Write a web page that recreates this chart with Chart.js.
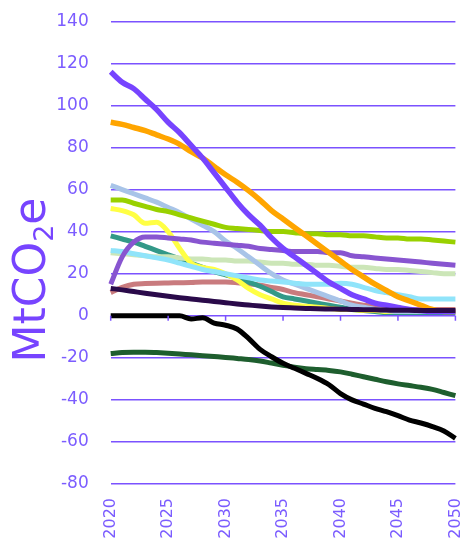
<!DOCTYPE html>
<html>
<head>
<meta charset="utf-8">
<script src="https://cdn.jsdelivr.net/npm/chart.js@4/dist/chart.umd.min.js"></script>
<style>
html,body{margin:0;padding:0;background:#fff;}
canvas{display:block;}
</style>
</head>
<body>
<canvas id="c" width="464" height="544"></canvas>
<script>
const years = [2020,2021,2022,2023,2024,2025,2026,2027,2028,2029,2030,2031,2032,2033,2034,2035,2036,2037,2038,2039,2040,2041,2042,2043,2044,2045,2046,2047,2048,2049,2050];
const yTicks = [-80,-60,-40,-20,0,20,40,60,80,100,120,140];
const axisTitleMain = "MtCO";
const axisTitleSub = "2";
const axisTitleEnd = "e";

const violet    = [116,111,108,103,98,92,87,81,75,68,61,54,48,43,37,32,28,24,20,16,13,10,8,6,5,4,3,2.5,2,2,2];
const orange    = [92,91,89.5,88,86,84,81.5,78,75,71,67,63.5,59.5,55,50,46,42,38,34,30,26,22,18.5,15,12,9,7,5,3,2,2];
const lime      = [55,55,53.5,52,50.5,49.5,48,46.5,45,43.5,42,41.5,41,40.5,40,40,39.5,39,39,38.5,38.5,38,38,37.5,37,37,36.5,36.5,36,35.5,35];
const steelBlue = [62,60,58,56,54,51.5,49,46,43,40,35.5,32,28,24,20,17,15,13,11,9,7,5,4,3,2.5,2,2,2,2,2,2];
const yellow    = [51,50,48,44,44.5,40,32,25,23,22,20,17,13,10,8,6,5,4.5,4,3.5,3,3,2.5,2.5,2,2,2,2,2,2,2];
const teal      = [38,36.5,35,33,31,29,27,25,23,21,19.5,18,16,14,11.5,9,8,7,6,5,4,3,2.5,2,1.5,1.5,1.5,1.5,1.5,1.5,1.5];
const purple    = [15,28,35,37.5,37.5,37,36.5,36,35,34.5,34,33.5,33,32,31.5,31,30.5,30.5,30.5,30,30,28.5,28,27.5,27,26.5,26,25.5,25,24.5,24];
const paleGreen = [30,29.5,29,28.5,28,28,27.5,27,27,26.5,26.5,26,26,25.5,25,25,24.5,24.5,24,24,23.5,23,23,22.5,22,22,21.5,21,20.5,20,20];
const cyan      = [31,30.5,29.5,28.5,27.5,26.5,25,23.5,22,21,20,19,18,17,16.5,16,15.5,15,15,15,15.5,15,13.5,12,11,10,9,8,8,8,8];
const rose      = [11,13.5,15,15.3,15.5,15.6,15.7,15.8,16,16,16,15.7,15.2,14.5,13.5,12.5,11,10,9,8,7,6,5,4.5,4,3.5,3,3,3,3,3];
const navy      = [13,12.3,11.5,10.7,10,9.3,8.6,8,7.4,6.8,6.2,5.6,5.1,4.6,4.2,3.9,3.7,3.5,3.3,3.2,3.1,3,2.9,2.8,2.7,2.6,2.6,2.5,2.5,2.5,2.5];
const black     = [0,0,0,0,0,0,0,-1.5,-1,-3.5,-4.5,-6.3,-10.8,-16,-19.5,-22.6,-25,-27.4,-29.8,-32.8,-37,-40,-42,-44,-45.6,-47.5,-49.6,-51,-52.7,-54.8,-58.3];
const darkGreen = [-18,-17.5,-17.3,-17.3,-17.5,-17.8,-18.2,-18.6,-19,-19.4,-19.8,-20.3,-20.8,-21.5,-22.5,-23.5,-24.5,-25.2,-25.6,-26,-26.7,-27.8,-29,-30.2,-31.4,-32.4,-33.2,-34,-35,-36.5,-38];

const AXIS_COLOR = '#7b52ff';
const TEXT_COLOR = '#7b5cff';
const FONT = "'DejaVu Sans', sans-serif";

function ds(data, color, w){
  return {data, borderColor: color, backgroundColor: color, borderWidth: w || 5,
    pointRadius: 0, tension: 0.4, cubicInterpolationMode: 'monotone', fill: false};
}

// dataset 0 drawn on top
const datasets = [
  ds(navy, '#2a0a4a', 5),
  ds(black, '#000000', 5),
  ds(violet, '#7744ff', 5.5),
  ds(orange, '#ffa500', 5.5),
  ds(lime, '#99d100', 5),
  ds(purple, '#8855d0', 5),
  ds(cyan, '#90e4fa', 5),
  ds(steelBlue, '#a8c4e8', 5),
  ds(yellow, '#ffff44', 5),
  ds(paleGreen, '#cce6b8', 5),
  ds(teal, '#339988', 5),
  ds(rose, '#c97b7e', 5),
  ds(darkGreen, '#1e5e2e', 5)
];

const zeroTicks = {
  id: 'zeroTicks',
  afterDatasetsDraw(chart){
    const {ctx, scales:{x, y}} = chart;
    const y0 = y.getPixelForValue(0);
    ctx.save();
    ctx.strokeStyle = AXIS_COLOR;
    ctx.lineWidth = 1.5;
    years.forEach((yr, i) => {
      if (yr % 5 === 0) {
        const px = x.getPixelForValue(i);
        ctx.beginPath();
        ctx.moveTo(px, y0);
        ctx.lineTo(px, y0 + 5);
        ctx.stroke();
      }
    });
    ctx.restore();
  }
};

const yTitle = {
  id: 'yTitle',
  afterDraw(chart){
    const ctx = chart.ctx;
    const size = 44;
    const subSize = 27;
    ctx.save();
    ctx.fillStyle = '#7744ff';
    ctx.textBaseline = 'alphabetic';
    ctx.font = size + 'px ' + FONT;
    const w1 = ctx.measureText(axisTitleMain).width;
    const w3 = ctx.measureText(axisTitleEnd).width;
    ctx.font = subSize + 'px ' + FONT;
    const w2 = ctx.measureText(axisTitleSub).width;
    const total = w1 + w2 + w3;
    const cy = 280;
    ctx.translate(45, cy + total / 2);
    ctx.rotate(-Math.PI / 2);
    ctx.font = size + 'px ' + FONT;
    ctx.fillText(axisTitleMain, 0, 0);
    ctx.font = subSize + 'px ' + FONT;
    ctx.fillText(axisTitleSub, w1, 8);
    ctx.font = size + 'px ' + FONT;
    ctx.fillText(axisTitleEnd, w1 + w2, 0);
    ctx.restore();
  }
};

new Chart(document.getElementById('c'), {
  type: 'line',
  data: { labels: years, datasets },
  options: {
    responsive: false,
    animation: false,
    layout: { padding: { top: 21.3, right: 8.6, left: 0, bottom: 0 } },
    plugins: { legend: { display: false }, tooltip: { enabled: false } },
    scales: {
      x: {
        type: 'category',
        offset: false,
        grid: { display: false, drawTicks: false },
        border: { display: false },
        ticks: {
          autoSkip: false,
          minRotation: 90, maxRotation: 90,
          color: TEXT_COLOR,
          font: { family: FONT, size: 16 },
          padding: 14,
          callback(val, i){ return years[i] % 5 === 0 ? String(years[i]) : null; }
        },
        afterFit(scale){
          scale.height = 60;
          scale.paddingLeft = 0; scale.paddingRight = 0;
          scale.paddingTop = 0; scale.paddingBottom = 0;
        }
      },
      y: {
        min: -80, max: 140,
        afterBuildTicks(scale){ scale.ticks = yTicks.map(v => ({value: v})); },
        grid: { color: AXIS_COLOR, lineWidth: 1.5, drawTicks: false },
        border: { display: false },
        ticks: {
          color: TEXT_COLOR,
          font: { family: FONT, size: 17 },
          padding: 22
        },
        afterFit(scale){
          scale.width = 110.7;
          scale.paddingTop = 0; scale.paddingBottom = 0;
          scale.paddingLeft = 0; scale.paddingRight = 0;
        }
      }
    }
  },
  plugins: [zeroTicks, yTitle]
});
</script>
</body>
</html>
